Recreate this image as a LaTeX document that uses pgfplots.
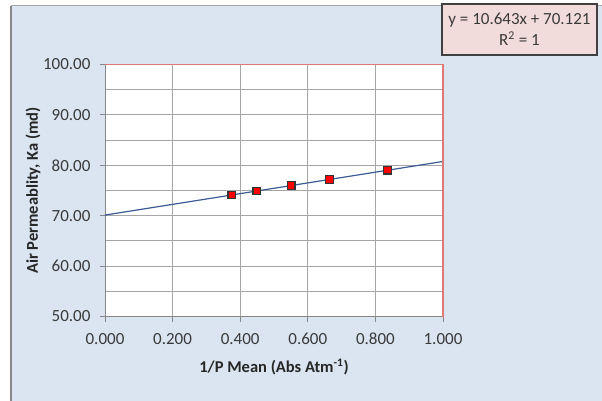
\documentclass[border=0pt]{standalone}
\usepackage{pgfplots}
\pgfplotsset{compat=1.18}
\usepackage{fontspec}
\setmainfont{Carlito}
\definecolor{bgblue}{HTML}{DBE5F1}
\definecolor{boxpink}{HTML}{F2DCDB}
\definecolor{gridgray}{HTML}{A6A6A6}
\definecolor{axgray}{HTML}{868686}
\definecolor{edgered}{HTML}{E07878}
\definecolor{trend}{HTML}{3B5C94}
\definecolor{txt}{HTML}{3A3A3A}
\begin{document}
\begin{tikzpicture}
\useasboundingbox (0,0) rectangle (602pt,-401pt);
\fill[white] (0,0) rectangle (602pt,-401pt);
\fill[bgblue] (11pt,-6pt) rectangle (602pt,-401pt);
\draw[axgray, line width=1.6pt] (11pt,-401pt) -- (11pt,-6pt);
\draw[gridgray, line width=1pt] (11pt,-6pt) -- (602pt,-6pt);
\begin{axis}[
  at={(105pt,-316.5pt)}, anchor=south west,
  width=338pt, height=252pt, scale only axis,
  xmin=0, xmax=1, ymin=50, ymax=100,
  xtick={0,0.2,...,1.0}, ytick={50,60,...,100},
  minor ytick={55,65,...,95},
  grid=both,
  major grid style={gridgray, line width=0.9pt},
  minor grid style={gridgray, line width=0.9pt},
  axis background/.style={fill=white},
  axis line style={axgray, line width=1pt},
  tick style={axgray, line width=1pt},
  tick align=outside, major tick length=5pt, minor tick length=0pt,
  xtick pos=bottom, ytick pos=left,
  /pgf/number format/assume math mode=true,
  xticklabel style={/pgf/number format/.cd, fixed, fixed zerofill, precision=3, /tikz/.cd, yshift=-8pt},
  yticklabel style={/pgf/number format/.cd, fixed, fixed zerofill, precision=2, /tikz/.cd, xshift=-6pt},
  ticklabel style={font=\fontsize{17}{20}\selectfont, text=txt},
  xlabel={\textbf{1/P Mean (Abs Atm\textsuperscript{-1})}},
  ylabel={\textbf{Air Permeablity, Ka (md)}},
  every axis x label/.style={at={(axis description cs:0.5,-0.2)}, anchor=center, font=\fontsize{16.5}{19}\selectfont, text=black!85},
  every axis y label/.style={at={(axis description cs:-0.213,0.5)}, rotate=90, anchor=center, font=\fontsize{16.5}{19}\selectfont, text=black!85},
  clip=false,
]
\addplot[trend, line width=1.2pt] coordinates {(0,70.121) (1,80.764)};
\addplot[only marks, mark=square*, mark size=3.8pt, mark options={fill=red, draw=black!80, line width=1.2pt}]
  coordinates {(0.375,74.11) (0.449,74.90) (0.551,75.98) (0.664,77.19) (0.836,79.02)};
\draw[edgered, line width=1.2pt] (axis cs:0,100) -- (axis cs:1,100) -- (axis cs:1,50);
\end{axis}
\node[draw=black!75, line width=1.4pt, fill=boxpink, minimum width=155pt, minimum height=51pt, align=center, font=\fontsize{17}{21}\selectfont, text=txt, inner sep=0pt] at (519.5pt,-29.5pt) {y = 10.643x + 70.121\\R\textsuperscript{2} = 1};
\end{tikzpicture}
\end{document}
